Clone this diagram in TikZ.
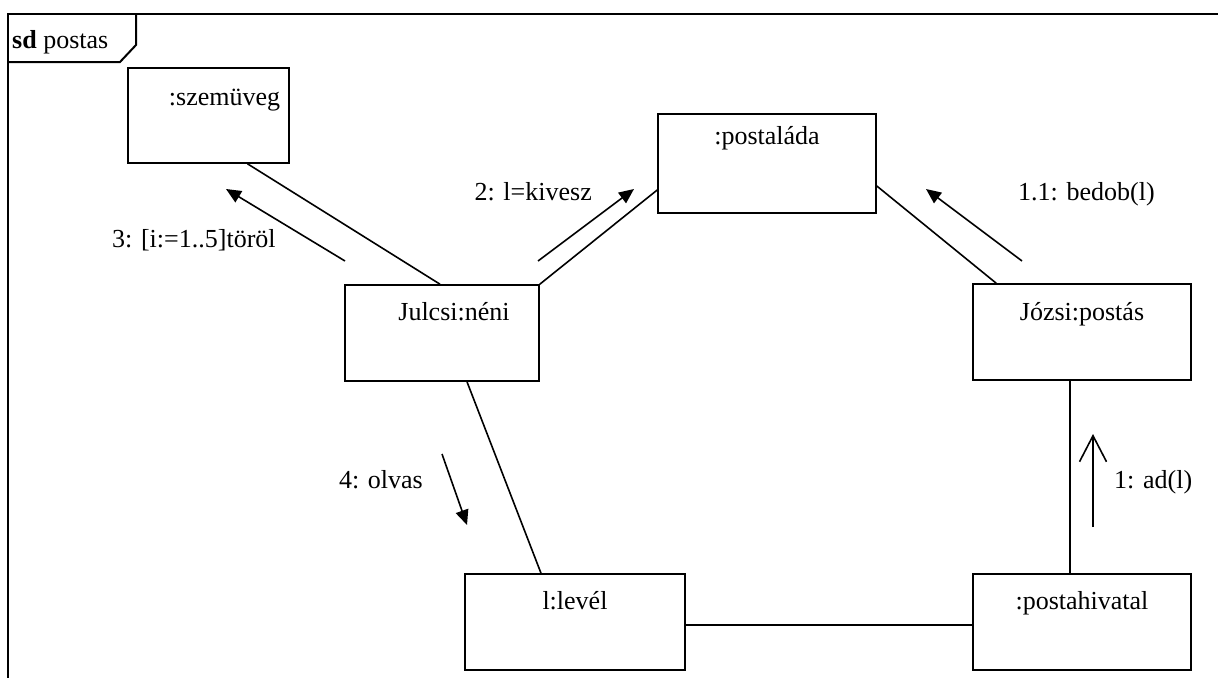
\documentclass[tikz,border=0pt]{standalone}
\usepackage{fontspec}
\setmainfont{Liberation Serif}
\usetikzlibrary{arrows.meta,calc}
\begin{document}
\begin{tikzpicture}[x=1pt,y=-1pt,
  box/.style={draw, line width=1.6pt, inner sep=0pt, rectangle},
  lbl/.style={font=\fontsize{26}{30}\selectfont, inner sep=0pt},
  conn/.style={line width=1.6pt},
  msg/.style={line width=1.6pt, -{Triangle[length=15pt,width=13pt]}},
  openmsg/.style={line width=1.6pt, -{Straight Barb[length=26pt,width=27pt]}},
  frameline/.style={line width=2pt}]
\useasboundingbox (0,0) rectangle (1218,678);
% frame
\draw[frameline] (1218,14) -- (8,14) -- (8,678);
\draw[frameline] (136,14) -- (136,45) -- (120,62) -- (8,62);
\node[lbl, anchor=base west] (tag) at (12,48) {\textbf{sd} postas};
% boxes
\node[box, minimum width=161pt, minimum height=95pt] (szem) at (208.5,115.5) {};
\node[box, minimum width=218pt, minimum height=99pt] (posta) at (767,163.5) {};
\node[box, minimum width=194pt, minimum height=96pt] (julcsi) at (442,333) {};
\node[box, minimum width=218pt, minimum height=96pt] (jozsi) at (1082,332) {};
\node[box, minimum width=220pt, minimum height=96pt] (level) at (575,622) {};
\node[box, minimum width=218pt, minimum height=96pt] (hivatal) at (1082,622) {};
% box texts
\node[lbl, anchor=base] (szemt) at ($(szem.north)+(16,38)$) {:szemüveg};
\node[lbl, anchor=base] (postat) at ($(posta.north)+(0,31)$) {:postaláda};
\node[lbl, anchor=base] (julcsit) at ($(julcsi.north)+(12,36)$) {Julcsi:néni};
\node[lbl, anchor=base] (jozsit) at ($(jozsi.north)+(0,37)$) {Józsi:postás};
\node[lbl, anchor=base] (levelt) at ($(level.north)+(0,36)$) {l:levél};
\node[lbl, anchor=base] (hivatalt) at ($(hivatal.north)+(0,36)$) {:postahivatal};
% links
\draw[conn] ($(szem.south west)!0.74!(szem.south east)$) -- ($(julcsi.north)+(-2,0)$);
\draw[conn] (julcsi.north east) -- ($(posta.west)+(0,26.5)$);
\draw[conn] ($(posta.east)+(0,22.5)$) -- ($(jozsi.north west)+(24,0)$);
\draw[conn] ($(julcsi.south)+(25,0)$) -- ($(level.north)+(-34,0)$);
\draw[conn] ($(jozsi.south)+(-12,0)$) -- ($(hivatal.north)+(-12,0)$);
\draw[conn] ($(level.east)+(0,3)$) -- ($(hivatal.west)+(0,3)$);
% messages
\coordinate (m3a) at (345,261); \coordinate (m3b) at (226,189);
\coordinate (m2a) at (538,261); \coordinate (m2b) at (634,189);
\coordinate (m11a) at (1022,261); \coordinate (m11b) at (926,189);
\coordinate (m4a) at (442,454); \coordinate (m4b) at (467,525);
\coordinate (m1a) at (1093,527); \coordinate (m1b) at (1093,434);
\draw[msg] (m3a) -- (m3b);
\draw[msg] (m2a) -- (m2b);
\draw[msg] (m11a) -- (m11b);
\draw[msg] (m4a) -- (m4b);
\draw[openmsg] (m1a) -- (m1b);
\node[lbl, anchor=base west] (l3) at (112,247) {3: [i:=1..5]töröl};
\node[lbl, anchor=base east] (l2) at (592,200) {2: l=kivesz};
\node[lbl, anchor=base west] (l11) at (1018,200) {1.1: bedob(l)};
\node[lbl, anchor=base east] (l4) at (423,488) {4: olvas};
\node[lbl, anchor=base west] (l1) at (1114,488) {1: ad(l)};
\end{tikzpicture}
\end{document}
